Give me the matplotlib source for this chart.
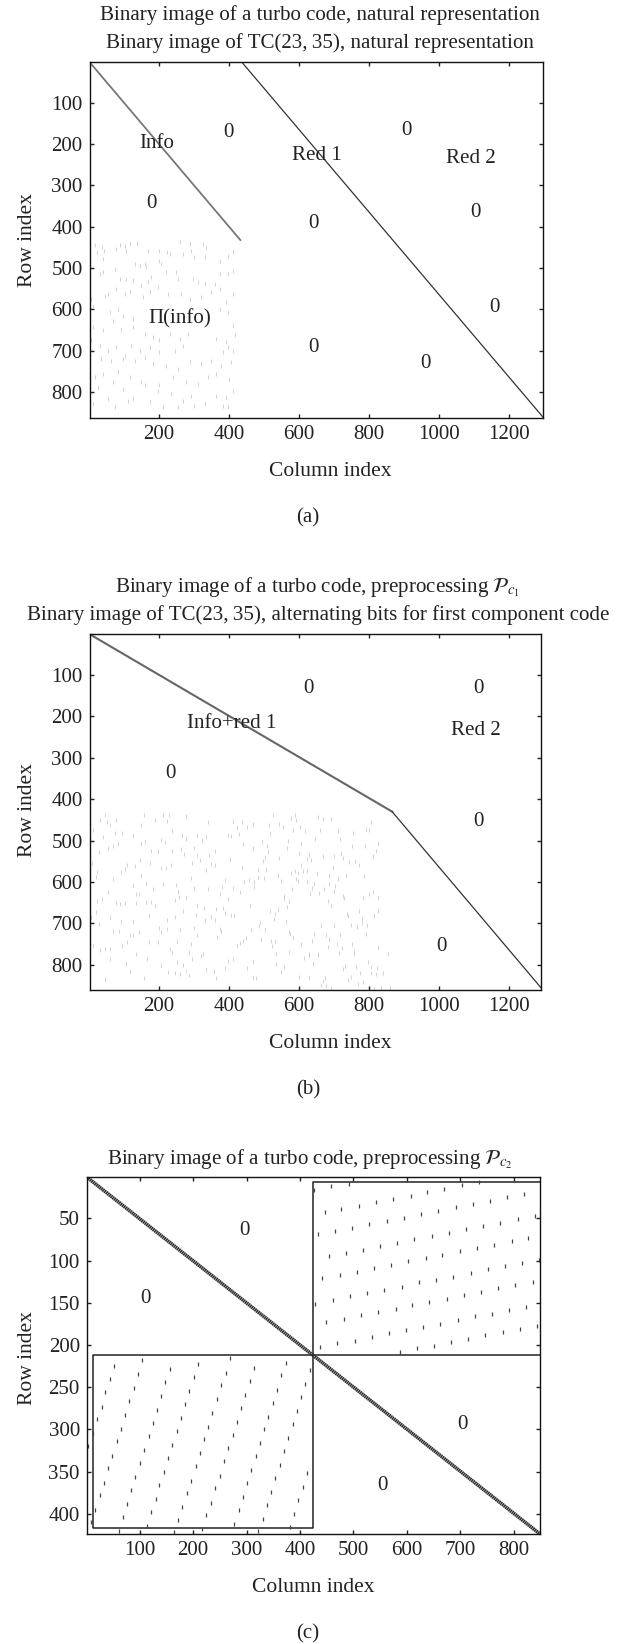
import matplotlib
matplotlib.use("Agg")
import matplotlib.pyplot as plt

plt.rcParams["font.family"] = ["Liberation Serif", "DejaVu Serif"]
plt.rcParams["mathtext.fontset"] = "stix"

W, H = 627, 1644
FS = 15.1

# panel (a): scattered ones of the interleaver block, (column, row)
dots_a = [(16,445),(23,462),(38,450),(40,478),(42,458),(78,455),(87,445),(102,447),(104,458),(116,441),(137,439),
          (144,494),(130,490),(159,490),(163,498),(168,458),(201,458),(200,482),(206,490),(222,462),(230,466),(259,437),
          (268,466),(287,441),(292,458),(301,474),(325,441),(335,450),(330,474),(373,482),(397,470),(411,462),(30,514),
          (40,510),(73,502),(87,526),(106,526),(125,530),(149,542),(168,534),(178,522),(221,510),(249,510),(254,526),
          (297,526),(311,534),(330,538),(359,538),(373,514),(397,514),(411,506),(44,567),(54,562),(78,550),(102,562),
          (116,558),(154,571),(173,558),(197,546),(225,562),(263,562),(287,575),(320,571),(349,558),(373,550),(392,583),
          (411,562),(6,575),(11,591),(59,607),(82,599),(97,615),(125,623),(373,599),(397,607),(411,639),(11,643),(40,651),
          (68,627),(92,651),(125,643),(159,659),(182,667),(201,675),(230,659),(259,671),(282,659),(363,671),(392,680),
          (416,663),(6,675),(30,688),(54,700),(78,692),(102,712),(121,688),(144,700),(173,692),(201,704),(244,700),
          (268,688),(382,704),(397,692),(411,700),(35,720),(63,724),(97,720),(130,724),(159,716),(182,732),(221,736),
          (254,744),(287,728),(320,732),(349,724),(378,736),(406,728),(16,764),(40,756),(82,752),(116,764),(149,776),
          (201,784),(240,764),(278,776),(311,780),(340,764),(363,756),(401,768),(25,788),(68,776),(97,793),(125,817),
          (159,784),(197,797),(235,805),(268,821),(301,833),(330,829),(363,809),(392,813),(411,797),(11,829),(54,817),
          (73,837),(111,821),(173,825),(211,837),(254,837),(292,809),(382,833),(397,837)]

# panel (b): scattered ones of the interleaver block, (column, row)
dots_b = [(44,439),(30,451),(51,455),(59,463),(78,451),(156,437),(149,462),(187,451),(211,439),(228,439),(222,453),
          (276,441),(340,455),(11,474),(40,491),(73,482),(95,482),(125,489),(238,478),(266,487),(276,495),(308,486),
          (333,491),(323,498),(397,487),(149,509),(159,503),(204,498),(216,503),(82,509),(68,514),(54,518),(27,528),
          (178,526),(197,526),(238,526),(263,521),(270,532),(299,517),(308,536),(316,546),(344,536),(359,524),(295,554),
          (349,556),(359,560),(9,554),(23,576),(19,588),(68,592),(92,576),(102,568),(108,560),(130,562),(146,546),
          (175,554),(204,566),(219,566),(235,558),(335,570),(149,585),(290,590),(389,594),(125,607),(163,603),(182,616),
          (211,606),(247,608),(254,625),(301,614),(340,618),(380,611),(54,623),(373,629),(23,645),(37,641),(76,651),
          (87,654),(102,651),(133,630),(142,630),(133,650),(163,649),(178,649),(187,657),(244,643),(257,637),(278,638),
          (309,657),(327,663),(363,665),(384,662),(397,641),(21,673),(61,685),(6,685),(28,701),(92,697),(125,697),
          (171,681),(222,693),(244,685),(268,671),(304,679),(330,693),(349,685),(359,693),(389,675),(68,719),(85,719),
          (116,727),(125,729),(142,721),(200,711),(206,721),(222,713),(260,717),(301,712),(308,727),(373,713),(365,734),
          (378,721),(11,754),(30,764),(44,762),(61,762),(95,754),(109,746),(171,746),(197,746),(252,742),(292,750),
          (230,762),(238,770),(285,770),(135,774),(325,774),
          (412,453),(422,469),(437,455),(451,467),(468,461),(515,463),(525,437),(542,461),(555,467),(577,445),(587,439),
          (591,451),(582,474),(603,466),(618,478),(653,443),(669,449),(691,447),(660,474),(710,478),(755,481),(791,471),
          (806,455),(801,474),(406,489),(428,483),(441,509),(468,517),(494,503),(509,514),(510,528),(517,485),(568,501),
          (565,517),(606,509),(647,497),(717,497),(751,514),(788,513),(827,506),(404,544),(496,550),(504,541),(544,542),
          (599,530),(622,544),(629,536),(634,548),(668,538),(699,538),(720,530),(725,541),(742,552),(761,550),(770,558),
          (812,538),(820,524),(437,566),(482,572),(506,569),(606,560),(587,574),(596,579),(612,574),(622,574),(577,578),
          (696,566),(482,588),(444,599),(456,596),(472,600),(470,612),(501,591),(539,583),(549,598),(591,592),(596,598),
          (622,599),(651,580),(685,586),(710,592),(734,582),(787,586),(412,614),(430,625),(580,616),(630,626),(637,614),
          (644,606),(656,627),(670,616),(685,604),(704,610),(701,621),(558,633),(572,645),(558,641),(460,657),(725,635),
          (729,638),(782,638),(799,630),(812,625),(827,638),(682,646),(691,657),(406,679),(415,679),(517,671),(539,665),
          (530,677),(565,661),(527,689),(736,677),(739,683),(772,671),(779,689),(815,681),(827,671),(487,697),(485,707),
          (463,715),(504,717),(563,697),(663,703),(701,704),(748,705),(765,709),(779,700),(794,703),(572,720),(574,725),
          (791,725),(449,735),(439,742),(431,748),(422,754),(491,738),(520,742),(530,742),(523,754),(582,735),(606,751),
          (637,743),(644,725),(677,729),(685,738),(682,758),(717,729),(708,750),(723,759),(750,750),(758,766),(825,758),
          (534,774),(572,770),(628,774),(653,774),(715,772),(758,774),
          (321,779),(165,785),(59,787),(106,797),(206,801),(251,793),(268,801),(295,786),(411,785),(397,790),(389,809),
          (468,793),(535,797),(556,805),(116,814),(225,817),(244,819),(261,823),(278,814),(285,825),(335,813),(356,814),
          (451,809),(549,817),(156,831),(468,831),(478,831),(363,833),(45,835),
          (613,783),(628,777),(654,777),(640,797),(797,793),(730,802),(763,806),(806,806),(823,809),(727,811),(775,819),
          (806,821),(820,823),(840,821),(599,829),(628,833),(675,833),(668,840),(749,829),(740,837),(784,841),(768,847),
          (663,849),(676,852),(692,858),(835,855),(859,855),(813,859),(854,773)]

# panel (c): upper right block, (column, row)
dots_c1 = [(426,16),(458,12),(491,9),
           (446,43),(477,39),(510,35),(542,31),(574,27),(607,23),(638,19),(670,15),(703,11),(735,7),
           (434,68),(466,65),(498,61),(530,57),(562,53),(594,49),(627,45),(659,41),(691,37),(723,33),(755,29),(788,25),(819,21),
           (454,95),(486,91),(518,87),(550,83),(582,79),(614,75),(647,71),(678,67),(711,63),(743,59),(775,55),(808,51),(840,47),
           (442,121),(474,117),(506,113),(538,109),(570,105),(602,100),(635,97),(666,93),(699,89),(731,85),(763,81),(796,77),(827,73),
           (429,151),(461,147),(494,142),(526,139),(558,135),(590,131),(622,126),(654,123),(686,119),(719,115),(751,110),(783,107),(815,103),(847,99),
           (449,173),(482,169),(514,165),(546,161),(579,157),(610,153),(642,149),(675,145),(706,141),(739,137),(771,133),(803,129),(835,125),
           (437,203),(469,198),(502,195),(534,190),(566,186),(598,182),(630,179),(662,175),(695,171),(727,166),(759,163),(791,159),(823,155),
           (587,208),(618,204),(651,201),(683,197),(715,193),(747,188),(779,185),(811,181),(843,177)]

# panel (c): lower left block, (column, row)
dots_c2 = [(52,225),(44,240),(36,256),(29,273),(20,288),(12,304),(4,320),
           (105,218),(97,234),(89,251),(81,267),(73,283),(65,299),(57,314),(49,331),(41,346),(33,363),(25,378),(17,395),(9,410),
           (157,229),(148,244),(140,260),(133,277),(125,292),(117,308),(108,324),(100,340),(92,356),(84,372),(76,388),(68,404),(61,420),
           (210,222),(201,238),(193,254),(185,270),(177,286),(169,302),(161,318),(153,334),(145,350),(137,366),(130,382),(121,398),(113,414),
           (269,216),(261,233),(253,248),(244,264),(236,281),(228,297),(220,312),(213,328),(205,344),(196,361),(188,376),(180,392),(172,408),(165,422),
           (314,227),(306,243),(298,259),(290,275),(282,291),(274,307),(266,322),(258,338),(250,355),(241,370),(233,387),(225,402),(217,418),
           (373,221),(365,236),(357,253),(349,269),(341,285),(333,300),(325,316),(317,332),(309,348),(301,364),(293,380),(285,396),(277,412),
           (410,246),(402,262),(394,278),(386,294),(378,310),(370,326),(362,342),(354,358),(346,374),(338,390),(330,406),(321,421),
           (418,230),(414,352),(405,368),(397,384),(389,400),(381,416)]

# structure lines, (column, row) end points
info_a = ([1, 432], [1, 432])
red_a = ([436, 1297], [1, 861])
info_b = ([1, 866], [1, 430])
red_b = ([866, 1297], [430, 861])
diag_c = ([1, 849], [1, 424])
box_upper = ([849, 424, 424, 849], [7, 7, 212, 212])
box_lower = ([424, 12, 12, 424, 424], [212, 212, 417, 417, 212])

ticks_ab_x = [200, 400, 600, 800, 1000, 1200]
ticks_ab_y = [100, 200, 300, 400, 500, 600, 700, 800]
ticks_c_x = [100, 200, 300, 400, 500, 600, 700, 800]
ticks_c_y = [50, 100, 150, 200, 250, 300, 350, 400]

labels_a = [("Info", 193, 190), ("0", 399, 163), ("Red 1", 650, 219), ("Red 2", 1090, 226), ("0", 907, 158),
            ("0", 1104, 357), ("0", 179, 337), ("0", 642, 384), ("0", 1157, 587), ("0", 642, 684), ("0", 960, 724),
            ("Π(info)", 259, 614)]
labels_b = [("Info+red 1", 409, 209), ("0", 627, 125), ("0", 1112, 125), ("Red 2", 1104, 226), ("0", 233, 330),
            ("0", 1112, 447), ("0", 1008, 749)]
labels_c = [("0", 296, 61), ("0", 110, 141), ("0", 703, 291), ("0", 554, 363)]


def panel(fig, box, xlim, ylim, xticks, yticks, labels):
    left, top, right, bottom = box
    ax = fig.add_axes([left / W, 1 - bottom / H, (right - left) / W, (bottom - top) / H])
    ax.set_xlim(*xlim)
    ax.set_ylim(*ylim)
    ax.set_xticks(xticks)
    ax.set_yticks(yticks)
    ax.tick_params(direction="in", top=True, right=True, length=3.2, width=1, labelsize=FS, pad=5, colors="#222222")
    for s in ax.spines.values():
        s.set_linewidth(1)
        s.set_color("#111111")
    for txt, x, y in labels:
        ax.annotate(txt, (x, y), xytext=(0, -2.3), textcoords="offset points", ha="center", va="center",
                    fontsize=FS, color="#222222")
    return ax


def ftext(x, y, s, **kw):
    kw.setdefault("fontsize", FS)
    kw.setdefault("color", "#222222")
    plt.figtext(x / W, 1 - y / H, s, ha="center", va="center", **kw)


fig = plt.figure(figsize=(W / 100, H / 100), dpi=100)

# (a)
ax = panel(fig, (89.5, 62, 543, 418), (1, 1297), (863, 1), ticks_ab_x, ticks_ab_y, labels_a)
ax.plot(*info_a, color="#777777", lw=1.3)
ax.plot(*red_a, color="#333333", lw=0.9)
ax.plot(*zip(*dots_a), ls="", marker="|", ms=2.2, mew=0.5, color="#c0c0c0")

# (b)
ax = panel(fig, (89.5, 634.5, 541.5, 990), (1, 1293), (861, 2), ticks_ab_x, ticks_ab_y, labels_b)
ax.plot(*info_b, color="#666666", lw=1.5)
ax.plot(*red_b, color="#333333", lw=0.9)
ax.plot(*zip(*dots_b), ls="", marker="|", ms=2.2, mew=0.5, color="#c0c0c0")

# (c)
ax = panel(fig, (86.7, 1177, 540, 1534), (1, 849), (424, 1), ticks_c_x, ticks_c_y, labels_c)
ax.plot(*box_upper, color="#222222", lw=1.1)
ax.plot(*box_lower, color="#222222", lw=1.1)
ax.plot(*diag_c, color="#333333", lw=2.6, ls=(0, (0.45, 0.12)))
ax.plot(*zip(*dots_c1), ls="", marker="|", ms=2.5, mew=0.9, color="#444444")
ax.plot(*zip(*dots_c2), ls="", marker="|", ms=2.5, mew=0.9, color="#444444")

# titles, axis names and captions
ftext(320, 15, "Binary image of a turbo code, natural representation")
ftext(320, 43, "Binary image of TC(23,\u200935), natural representation")
ftext(317, 587, r"Binary image of a turbo code, preprocessing $\mathcal{P}_{c_1}$")
ftext(318, 615, "Binary image of TC(23,\u200935), alternating bits for first component code")
ftext(310, 1159, r"Binary image of a turbo code, preprocessing $\mathcal{P}_{c_2}$")
ftext(330, 471, "Column index", fontsize=15.5)
ftext(330, 1043, "Column index", fontsize=15.5)
ftext(313, 1587, "Column index", fontsize=15.5)
ftext(28, 240, "Row index", rotation=90, fontsize=15.5)
ftext(28, 810, "Row index", rotation=90, fontsize=15.5)
ftext(28, 1358, "Row index", rotation=90, fontsize=15.5)
ftext(308, 518, "(a)")
ftext(308, 1090, "(b)")
ftext(308, 1634, "(c)")

fig.savefig("out.png", dpi=100)
